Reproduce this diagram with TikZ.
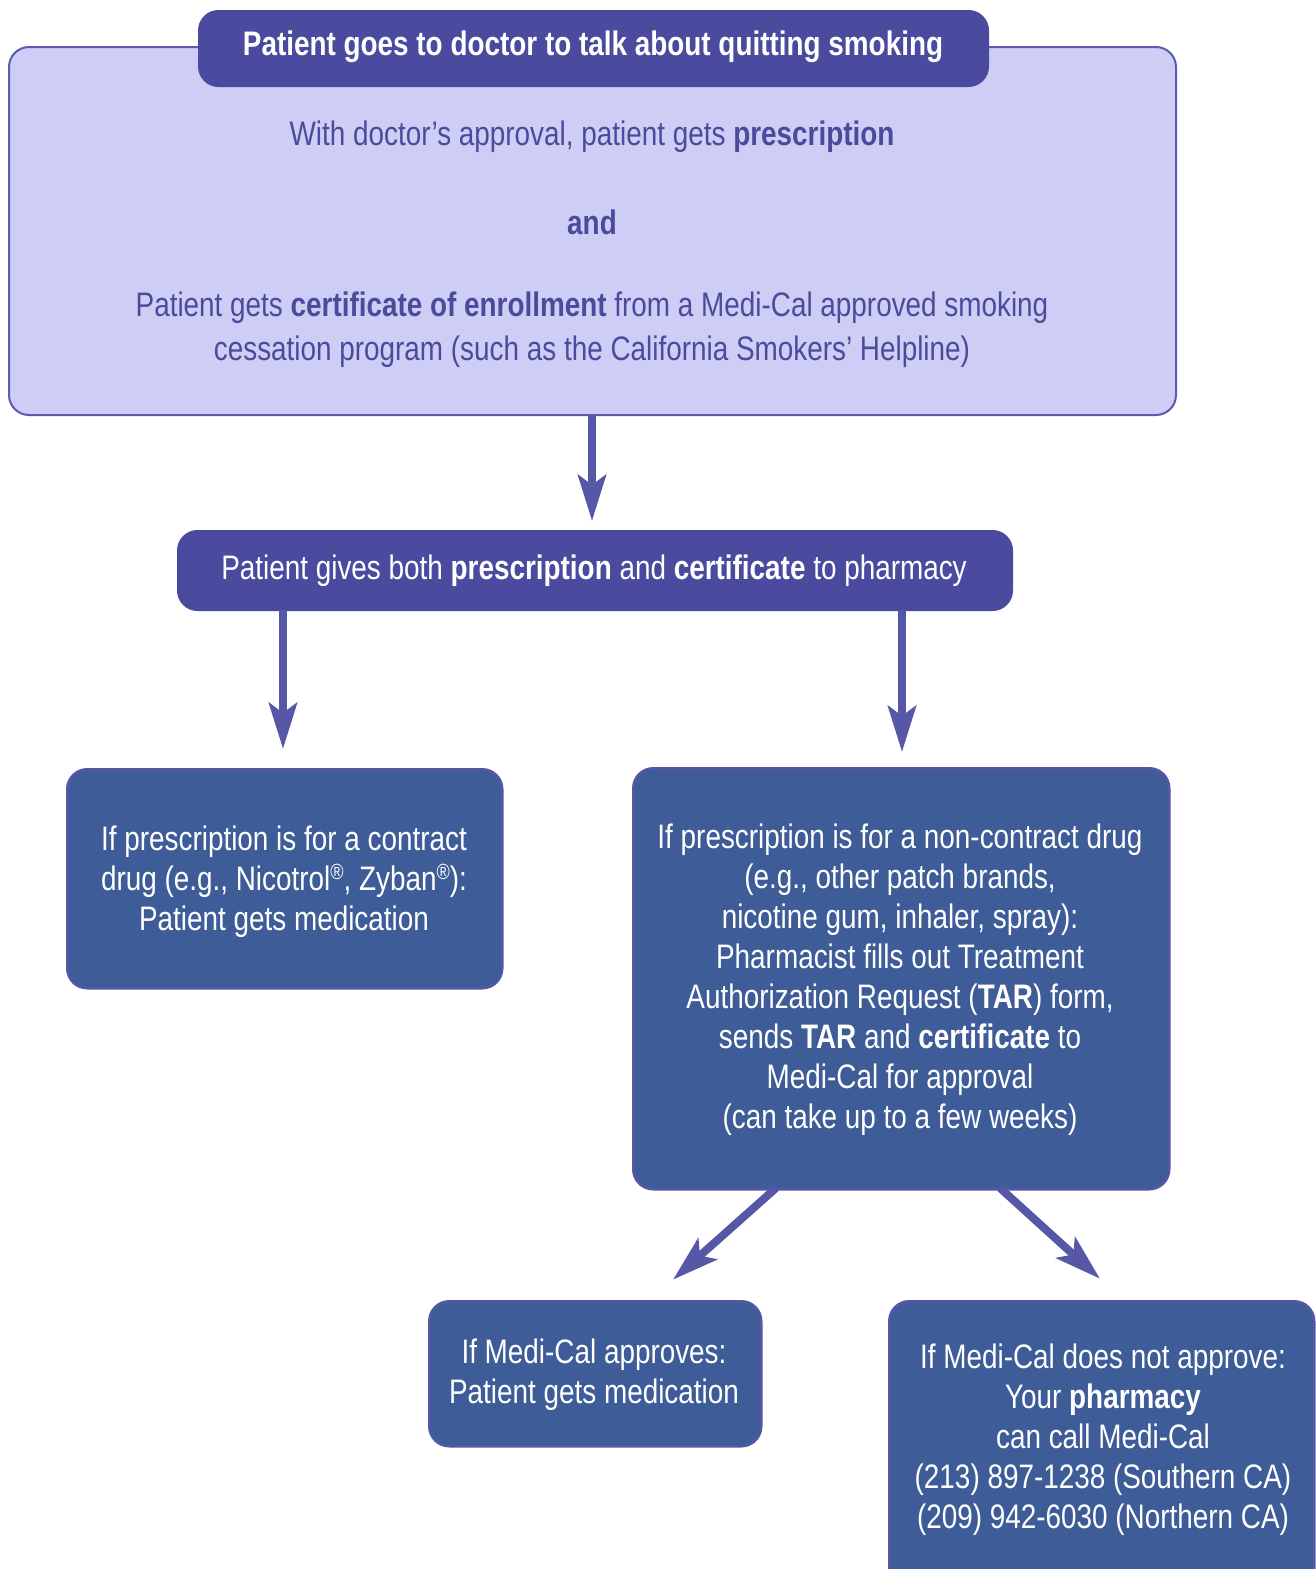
\documentclass[tikz,border=0pt]{standalone}
\usepackage{fontspec}
\setmainfont{Liberation Sans}[FakeStretch=0.82]
\usetikzlibrary{arrows.meta}
\definecolor{lightfill}{HTML}{CDCDF6}
\definecolor{lightdraw}{HTML}{5B5BB0}
\definecolor{indigo}{HTML}{4A4B9E}
\definecolor{steelblue}{HTML}{3D5C98}
\definecolor{boxedge}{HTML}{5557A6}
\definecolor{arrowcol}{HTML}{5757A8}
\definecolor{lighttext}{HTML}{4B4B9C}
\newcommand{\regmark}{\raisebox{0.62ex}{\fontsize{22}{22}\selectfont ®}}
\tikzset{
  lightbox/.style={fill=lightfill, draw=lightdraw, line width=2pt, rounded corners=20pt},
  headbox/.style={fill=indigo, draw=indigo, line width=1pt, rounded corners=20pt},
  bluebox/.style={fill=steelblue, draw=boxedge, line width=2.5pt, rounded corners=20pt},
  wtext/.style={text=white, align=center, font=\fontsize{34}{40}\selectfont, inner sep=0pt},
  ltext/.style={text=lighttext, align=center, font=\fontsize{34}{44}\selectfont, inner sep=0pt},
  flowarrow/.style={draw=arrowcol, line width=8pt, -{Stealth[length=46pt, width=28pt, inset=10pt]}, shorten >=-4pt}
}
\begin{document}
\begin{tikzpicture}[x=1pt, y=-1pt]
\useasboundingbox (0,0) rectangle (1315,1569);

% top light box
\draw[lightbox] (9,47) rectangle (1176,415);
\node[headbox, minimum width=790pt, minimum height=76pt, anchor=north west] (head) at (198,10) {};
\node[wtext, font=\fontsize{34}{40}\selectfont\bfseries] (headtext) at (593,47) {Patient goes to doctor to talk about quitting smoking};
\node[ltext] (t1) at (592,137) {With doctor’s approval, patient gets \textbf{prescription}};
\node[ltext, font=\fontsize{34}{40}\selectfont\bfseries] (t2) at (592,222) {and};
\node[ltext] (t3) at (592,330) {Patient gets \textbf{certificate of enrollment} from a Medi-Cal approved smoking\\cessation program (such as the California Smokers’ Helpline)};
\coordinate (topbot) at (592,415);

% pharmacy box
\node[headbox, minimum width=835pt, minimum height=80pt, anchor=north west] (pharm) at (177,530) {};
\node[wtext] (pharmtext) at (594,571) {Patient gives both \textbf{prescription} and \textbf{certificate} to pharmacy};
\coordinate (arrow1end) at (592,517);
\coordinate (pl) at (283,610);
\coordinate (plend) at (283,745);
\coordinate (pr) at (902,610);
\coordinate (prend) at (902,748);

% contract box
\node[bluebox, minimum width=435pt, minimum height=219pt, anchor=north west] (contract) at (66,768) {};
\node[wtext] (contracttext) at (284,882) {If prescription is for a contract\\drug (e.g., Nicotrol\regmark, Zyban\regmark):\\Patient gets medication};

% non-contract box
\node[bluebox, minimum width=536pt, minimum height=421pt, anchor=north west] (noncontract) at (632,767) {};
\node[wtext] (noncontracttext) at (900,980) {If prescription is for a non-contract drug\\(e.g., other patch brands,\\nicotine gum, inhaler, spray):\\Pharmacist fills out Treatment\\Authorization Request (\textbf{TAR}) form,\\sends \textbf{TAR} and \textbf{certificate} to\\Medi-Cal for approval\\(can take up to a few weeks)};
\coordinate (dl) at (776,1188);
\coordinate (dlend) at (676,1277);
\coordinate (dr) at (1000,1188);
\coordinate (drend) at (1097,1276);

% approves box
\node[bluebox, minimum width=332pt, minimum height=145pt, anchor=north west] (approve) at (428,1300) {};
\node[wtext] (approvetext) at (594,1375) {If Medi-Cal approves:\\Patient gets medication};

% not approve box
\node[bluebox, minimum width=425pt, minimum height=300pt, anchor=north west] (notapprove) at (888,1300) {};
\node[wtext] (notapprovetext) at (1103,1440) {If Medi-Cal does not approve:\\Your \textbf{pharmacy}\\can call Medi-Cal\\(213) 897-1238 (Southern CA)\\(209) 942-6030 (Northern CA)};

% arrows
\draw[flowarrow] (topbot) -- (arrow1end);
\draw[flowarrow] (pl) -- (plend);
\draw[flowarrow] (pr) -- (prend);
\draw[flowarrow] (dl) -- (dlend);
\draw[flowarrow] (dr) -- (drend);
\end{tikzpicture}
\end{document}
